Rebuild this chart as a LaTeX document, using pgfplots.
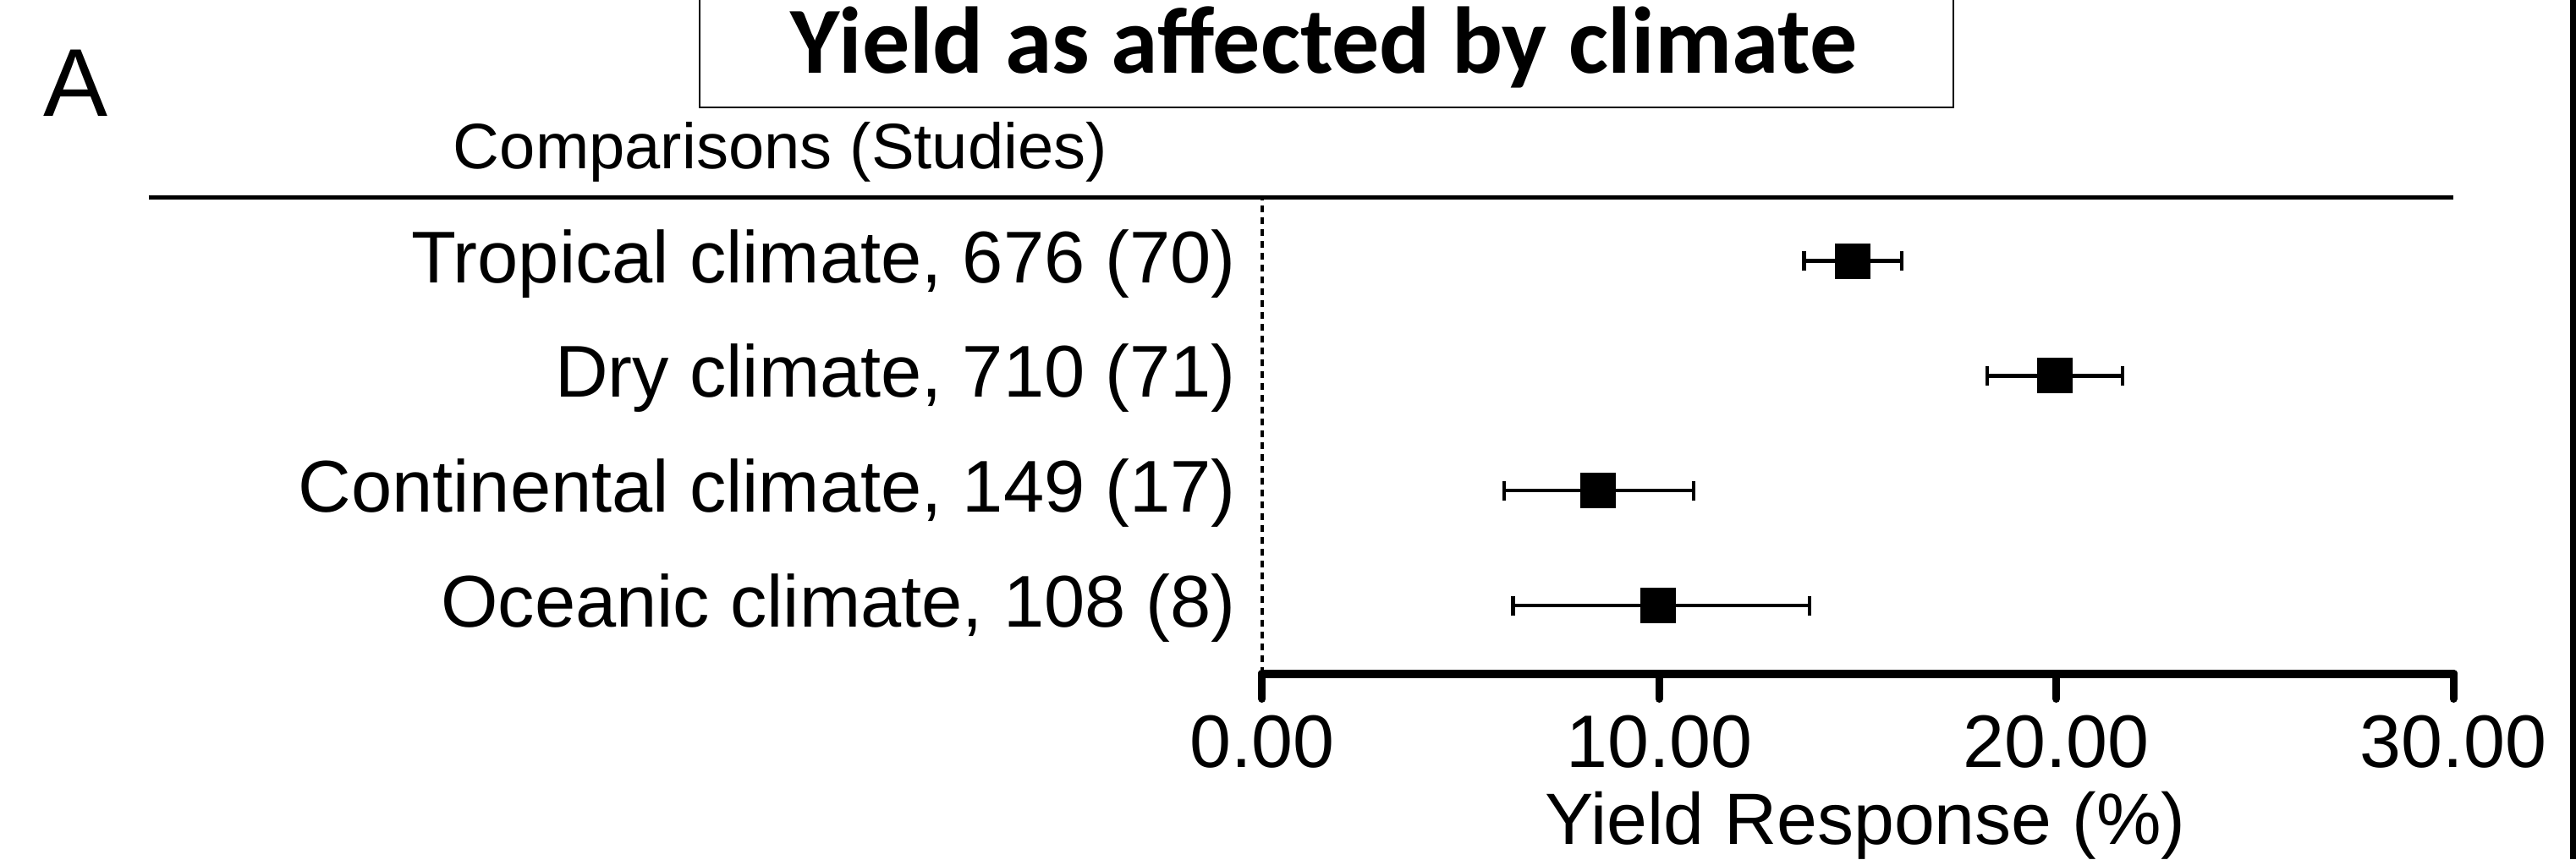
\documentclass[border=0pt]{standalone}
\usepackage{pgfplots}
\pgfplotsset{compat=1.18}
\usepackage{fontspec}
\setmainfont{Liberation Sans}
\newfontfamily\titlefont{Carlito}
\pgfplotstableread{
y   x      xminus  xplus
4   14.88  1.23    1.23
3   19.96  1.70    1.71
2   8.45   2.36    2.42
1   9.98   3.66    3.81
}\datatable
\begin{document}
\begin{tikzpicture}
\useasboundingbox (-149.2pt,-21.95pt) rectangle (155.3pt,79.65pt);
\begin{axis}[
  at={(0pt,0pt)}, anchor=south west,
  scale only axis, width=140.8pt, height=56.3pt,
  xmin=0, xmax=30, ymin=0.407, ymax=4.554,
  clip=false,
  axis x line*=bottom, axis y line*=left,
  x axis line style={line width=1pt, line cap=round, -},
  y axis line style={draw=none},
  xtick={0,10,20,30}, xticklabels={0.00,10.00,20.00,30.00},
  tick align=outside,
  major tick length=3.0pt,
  xtick style={line width=0.9pt, line cap=round, black},
  ytick style={draw=none},
  ytick={1,2,3,4},
  yticklabels={{Oceanic climate, 108 (8)},{Continental climate, 149 (17)},{Dry climate, 710 (71)},{Tropical climate, 676 (70)}},
  yticklabel style={anchor=base east, inner sep=0pt, xshift=0.1pt, yshift=-2.55pt, font=\fontsize{8.67pt}{10pt}\selectfont},
  xticklabel style={anchor=base, inner sep=0pt, yshift=-8.05pt, font=\fontsize{8.8pt}{10pt}\selectfont},
  xlabel={Yield Response (\%)},
  xlabel style={at={(axis description cs:0.5,0)}, anchor=base, inner sep=0pt, yshift=-20.2pt, xshift=0.9pt, font=\fontsize{8.6pt}{10pt}\selectfont},
]
\draw[line width=0.4pt, dash pattern=on 0.8pt off 0.6pt] (axis cs:0,0.407) -- (axis cs:0,4.554);
\addplot[only marks, mark=square*, mark size=1.9pt, black,
  error bars/.cd, x dir=both, x explicit,
  error mark=|, error bar style={line width=0.45pt, black},
  error mark options={line width=0.45pt, mark size=1.15pt, black}]
  table[x=x, y=y, x error minus=xminus, x error plus=xplus] {\datatable};
\end{axis}
% top rule
\draw[line width=0.5pt] (-131.6pt,56.3pt) -- (140.8pt,56.3pt);
% title box
\draw[line width=0.25pt] (-66.5pt,66.95pt) rectangle (81.7pt,85pt);
\node[anchor=base, inner sep=0pt, font=\titlefont\bfseries\fontsize{11.2pt}{13pt}\selectfont] at (7.3pt,70.95pt) {Yield as affected by climate};
\node[anchor=base west, inner sep=0pt, font=\fontsize{11.4pt}{13pt}\selectfont] at (-144.2pt,65.85pt) {A};
\node[anchor=base west, inner sep=0pt, font=\fontsize{7.6pt}{9pt}\selectfont] at (-95.8pt,59.65pt) {Comparisons (Studies)};
% right border
\draw[line width=0.7pt] (154.95pt,-21.95pt) -- (154.95pt,79.65pt);
\end{tikzpicture}
\end{document}
